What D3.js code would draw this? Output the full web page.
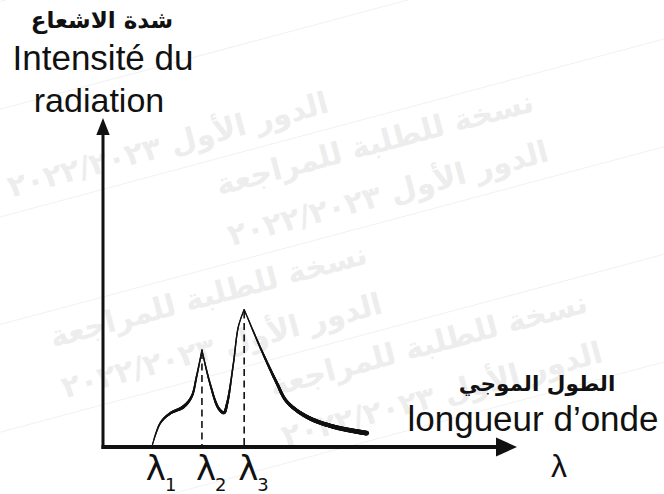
<!DOCTYPE html>
<html><head><meta charset="utf-8">
<script src="https://cdn.jsdelivr.net/npm/d3@7/dist/d3.min.js"></script>
<style>
html,body{margin:0;padding:0;background:#fff;}
svg{display:block;}
</style></head>
<body>
<svg id="c" width="664" height="494"></svg>
<script>
// ---- data ----
const risingPart = [[11.8,0],[13.8,7.2],[16.2,10.2],[19.4,12.2],[21.4,15.3],[22.6,21.4],[23.9,29.5]];
const middlePart = [[23.9,29.5],[25.8,19.5],[27.9,11.8],[29.2,10.4],[30.0,13.3],[31.5,25.4],[32.7,36.6],[34.1,41.8]];
const tailPart   = [[34.1,41.8],[37.9,30.5],[42.0,19.4],[44.4,13.8],[49.2,9.2],[55.6,6.2],[63.7,4.2]];
const lambdaLabels = ["λ", "λ", "λ"];
const lambdaSubs = ["1", "2", "3"];
const lambdaValues = [11.8, 23.9, 34.1];
const dashedPeaks = [[23.9,29.5],[34.1,41.8]];
const yTitleAr = "شدة الاشعاع";
const yTitleFr = ["Intensité du", "radiation"];
const xTitleAr = "الطول الموجي";
const xTitleFr = "longueur d’onde";
const xSymbol = "λ";
const watermarkLines = ["نسخة للطلبة للمراجعة", "الدور الأول ٢٠٢٢/٢٠٢٣"];

// ---- style ----
const strokeProfile = [[11.8,1.1],[15,2.2],[19.4,3.2],[22,2.0],[23.9,1.2],[26.5,2.0],[29.2,3.0],[31,1.6],[34.1,1.1],[38,1.8],[42,2.8],[50,4.0],[63.7,4.8]];

const W = 664, H = 494;
const svg = d3.select("#c");
const x = d3.scaleLinear().domain([0,100]).range([103,517]);
const y = d3.scaleLinear().domain([0,100]).range([447,118]);

// watermark (faint, only instances fully inside the picture)
const ang = -15, cx = W/2, cy = H/2;
const wm = svg.append("g").attr("transform",`rotate(${ang},${cx},${cy})`);
const rad = ang*Math.PI/180;
function rot(px, py){
  const dx = px-cx, dy = py-cy;
  return [cx + dx*Math.cos(rad) - dy*Math.sin(rad), cy + dx*Math.sin(rad) + dy*Math.cos(rad)];
}
for (let r = -4; r < 10; r++) {
  const yy = -40 + r*52;
  for (let c = -2; c < 4; c++) {
    const xx = c*400 + ((r+20)%4<2 ? 0 : 200);
    const t = wm.append("text").attr("x", xx).attr("y", yy)
      .attr("font-family","DejaVu Sans").attr("font-weight","bold").attr("font-size",30)
      .attr("fill","#ededed").attr("direction","rtl").attr("text-anchor","middle")
      .text(watermarkLines[(r+20)%2]);
    const b = t.node().getBBox();
    const corners = [[b.x,b.y],[b.x+b.width,b.y],[b.x,b.y+b.height],[b.x+b.width,b.y+b.height]].map(p=>rot(p[0],p[1]));
    if (!corners.every(p=>p[0]>=1 && p[0]<=W-1 && p[1]>=1 && p[1]<=H-1)) t.remove();
  }
  if ((r+20)%2===1) {
    wm.append("line").attr("x1",-400).attr("x2",1100).attr("y1",yy+16).attr("y2",yy+16)
      .attr("stroke","#f1f1f1").attr("stroke-width",1);
  }
}

// dashed lines
svg.selectAll(".dash").data(dashedPeaks).enter().append("line")
  .attr("x1", d=>x(d[0])).attr("x2", d=>x(d[0]))
  .attr("y1", d=>y(d[1])+2).attr("y2", y(0))
  .attr("stroke","#111").attr("stroke-width",1.6).attr("stroke-dasharray","7,4.5");

// curve with variable width
const widthAt = d3.scaleLinear().domain(strokeProfile.map(d=>d[0])).range(strokeProfile.map(d=>d[1])).clamp(true);
const line = d3.line().x(d=>x(d[0])).y(d=>y(d[1])).curve(d3.curveCatmullRom.alpha(0.5));
[risingPart, middlePart, tailPart].forEach(part => {
  const tmp = svg.append("path").attr("d", line(part)).attr("fill","none").attr("stroke","none");
  const node = tmp.node();
  const L = node.getTotalLength();
  const pts = [];
  for (let s = 0; s <= L; s += 0.8) pts.push(node.getPointAtLength(s));
  pts.push(node.getPointAtLength(L));
  tmp.remove();
  const g = svg.append("g");
  for (let i = 1; i < pts.length; i++) {
    const a = pts[i-1], b = pts[i];
    const w = widthAt(x.invert((a.x+b.x)/2));
    g.append("line").attr("x1",a.x).attr("y1",a.y).attr("x2",b.x).attr("y2",b.y)
      .attr("stroke","#111").attr("stroke-width",w).attr("stroke-linecap","round");
  }
});

// axes
const axisColor = "#111";
svg.append("line").attr("x1", x(0)).attr("x2", x(0)).attr("y1", y(0)+2).attr("y2", y(100)+14)
  .attr("stroke",axisColor).attr("stroke-width",3);
svg.append("path").attr("fill",axisColor)
  .attr("d", `M${x(0)},${y(100)} L${x(0)+6.7},${y(100)+17} L${x(0)-6.7},${y(100)+17} Z`);
svg.append("line").attr("x1", x(0)-1.5).attr("x2", x(100)-18).attr("y1", y(0)).attr("y2", y(0))
  .attr("stroke",axisColor).attr("stroke-width",4);
svg.append("path").attr("fill",axisColor)
  .attr("d", `M${x(100)},${y(0)} L${x(100)-21},${y(0)-9.5} L${x(100)-21},${y(0)+9.5} Z`);

// lambda tick labels
const lt = svg.selectAll(".lam").data(lambdaValues).enter().append("text")
  .attr("x", d=>x(d)-6).attr("y", 480)
  .attr("font-family","DejaVu Sans").attr("font-size",34).attr("fill","#111");
lt.append("tspan").text((d,i)=>lambdaLabels[i]);
lt.append("tspan").attr("font-size",18).attr("dy",11).attr("dx",-1).text((d,i)=>lambdaSubs[i]);

// axis titles
svg.append("text").attr("x",102).attr("y",28).attr("text-anchor","middle")
  .attr("font-family","DejaVu Sans").attr("font-weight","bold").attr("font-size",23)
  .attr("fill","#111").attr("direction","rtl").text(yTitleAr);
svg.append("text").attr("x",103).attr("y",70).attr("text-anchor","middle")
  .attr("font-family","Liberation Sans").attr("font-size",35).attr("fill","#111").text(yTitleFr[0]);
svg.append("text").attr("x",99).attr("y",112).attr("text-anchor","middle")
  .attr("font-family","Liberation Sans").attr("font-size",34).attr("fill","#111").text(yTitleFr[1]);
svg.append("text").attr("x",537).attr("y",391).attr("text-anchor","middle")
  .attr("font-family","DejaVu Sans").attr("font-weight","bold").attr("font-size",21.5)
  .attr("fill","#111").attr("direction","rtl").text(xTitleAr);
svg.append("text").attr("x",533).attr("y",430.5).attr("text-anchor","middle")
  .attr("font-family","Liberation Sans").attr("font-size",35).attr("fill","#111").text(xTitleFr);
svg.append("text").attr("x",551).attr("y",477).attr("font-family","Liberation Sans")
  .attr("font-size",32).attr("fill","#111").text(xSymbol);
</script>
</body></html>
